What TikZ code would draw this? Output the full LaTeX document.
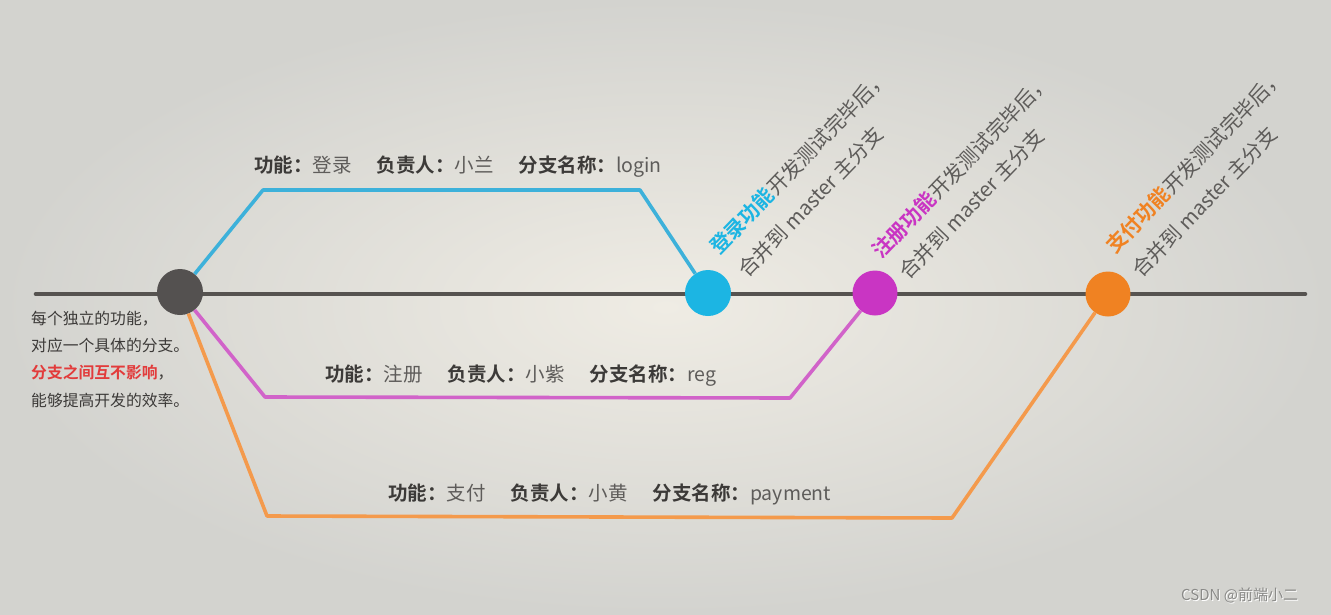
\documentclass[tikz,border=0pt]{standalone}
\usepackage{fontspec}
\setmainfont{Noto Sans CJK SC}
\newfontfamily\cjk{Noto Sans CJK SC}
\newfontfamily\cjkb{Noto Sans CJK SC Bold}
\definecolor{bgin}{HTML}{EFECE4}
\definecolor{bgout}{HTML}{D3D3CF}
\definecolor{mainc}{HTML}{565350}
\definecolor{ballg}{HTML}{545150}
\definecolor{bluec}{HTML}{3DB1DA}
\definecolor{blueball}{HTML}{1CB5E3}
\definecolor{magc}{HTML}{D163C9}
\definecolor{magball}{HTML}{C935C3}
\definecolor{orac}{HTML}{F49A4C}
\definecolor{oraball}{HTML}{F08222}
\definecolor{txtd}{HTML}{3C3A38}
\definecolor{txtg}{HTML}{5E5C5A}
\definecolor{redt}{HTML}{E23B3B}
\definecolor{wm}{HTML}{8A8A88}
\begin{document}
\begin{tikzpicture}[x=1pt,y=-1pt,
  ball/.style={circle,inner sep=0pt,minimum size=46pt},
  mainline/.style={line width=4.6pt,draw=mainc,line cap=round},
  branch/.style={line width=3.6pt,line join=round},
  lbl/.style={anchor=base west,inner sep=0pt,font=\fontsize{19.5}{22}\selectfont},
  rot/.style={anchor=base west,inner sep=0pt,rotate=46,text=txtg,font=\fontsize{20.5}{23}\selectfont},
  lefttxt/.style={anchor=base west,inner sep=0pt,text=txtd,font=\fontsize{15.8}{18}\selectfont}
]
\useasboundingbox (0,0) rectangle (1331,614);
\shade[inner color=bgin,outer color=bgout] (0,0) rectangle (1331,614);

% main line
\coordinate (L) at (36,294);
\coordinate (R) at (1305,294);
\draw[mainline] (L) -- (R);

% balls
\node[ball,fill=ballg] (g) at (180,292) {};
\node[ball,fill=blueball] (b) at (708,293) {};
\node[ball,fill=magball,minimum size=45pt] (m) at (875,293) {};
\node[ball,fill=oraball,minimum size=45pt] (o) at (1108,294) {};

% branches
\coordinate (b1) at (263,190);
\coordinate (b2) at (640,190);
\draw[branch,draw=bluec] (g) -- (b1) -- (b2) -- (b);
\coordinate (m1) at (265,397);
\coordinate (m2) at (790,398);
\draw[branch,draw=magc] (g) -- (m1) -- (m2) -- (m);
\coordinate (o1) at (267,516);
\coordinate (o2) at (952,518);
\draw[branch,draw=orac] (g) -- (o1) -- (o2) -- (o);

% branch labels
\node[lbl] (lb) at (254,172) {\textcolor{txtd}{\cjkb 功能：}\textcolor{txtg}{登录}\hspace{25pt}\textcolor{txtd}{\cjkb 负责人：}\textcolor{txtg}{小兰}\hspace{25pt}\textcolor{txtd}{\cjkb 分支名称：}\textcolor{txtg}{login}};
\node[lbl] (lm) at (325,381) {\textcolor{txtd}{\cjkb 功能：}\textcolor{txtg}{注册}\hspace{25pt}\textcolor{txtd}{\cjkb 负责人：}\textcolor{txtg}{小紫}\hspace{25pt}\textcolor{txtd}{\cjkb 分支名称：}\textcolor{txtg}{reg}};
\node[lbl] (lo) at (388,500) {\textcolor{txtd}{\cjkb 功能：}\textcolor{txtg}{支付}\hspace{25pt}\textcolor{txtd}{\cjkb 负责人：}\textcolor{txtg}{小黄}\hspace{25pt}\textcolor{txtd}{\cjkb 分支名称：}\textcolor{txtg}{payment}};

% rotated merge notes
\node[rot] (rb1) at (719,256) {\textcolor{blueball}{\cjkb 登录功能}开发测试完毕后，};
\node[rot] (rb2) at (747,279) {合并到 master 主分支};
\node[rot] (rm1) at (881,260) {\textcolor{magball}{\cjkb 注册功能}开发测试完毕后，};
\node[rot] (rm2) at (908,281) {合并到 master 主分支};
\node[rot] (ro1) at (1115,255) {\textcolor{oraball}{\cjkb 支付功能}开发测试完毕后，};
\node[rot] (ro2) at (1141,279) {合并到 master 主分支};

% left text
\node[lefttxt] (t1) at (31,324) {每个独立的功能，};
\node[lefttxt] (t2) at (31,351) {对应一个具体的分支。};
\node[lefttxt] (t3) at (31,378) {\textcolor{redt}{\cjkb 分支之间互不影响}，};
\node[lefttxt] (t4) at (31,406) {能够提高开发的效率。};

% watermark
\node[anchor=base west,inner sep=0pt,text=white,font=\fontsize{15}{18}\selectfont] (wms) at (1182,601) {CSDN @前端小二};
\node[anchor=base west,inner sep=0pt,text=wm,font=\fontsize{15}{18}\selectfont] (wmt) at (1181,600) {CSDN @前端小二};
\end{tikzpicture}
\end{document}
